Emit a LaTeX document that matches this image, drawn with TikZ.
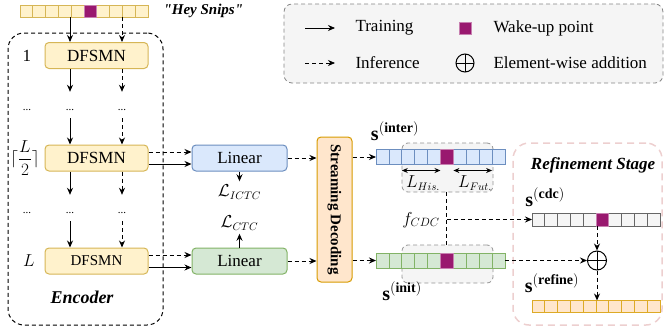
\documentclass[tikz,border=0pt]{standalone}
\usepackage{amsmath,amssymb}
\usepackage{fontspec}
\setmainfont{Liberation Serif}
\usepackage{tikz}
\usetikzlibrary{arrows.meta}
\usetikzlibrary{positioning}
\usetikzlibrary{calc}
\definecolor{yfill}{HTML}{FFF2CC}
\definecolor{ydraw}{HTML}{D6B656}
\definecolor{bfill}{HTML}{DAE8FC}
\definecolor{bdraw}{HTML}{6C8EBF}
\definecolor{gfill}{HTML}{D5E8D4}
\definecolor{gdraw}{HTML}{82B366}
\definecolor{ofill}{HTML}{FFE6CC}
\definecolor{odraw}{HTML}{D79B00}
\definecolor{wake}{HTML}{99186F}
\definecolor{greyfill}{HTML}{F5F5F5}
\definecolor{greydraw}{HTML}{666666}
\definecolor{pinkdraw}{HTML}{EDCFCF}
\tikzset{
	train/.style={draw=black, line width=1pt, -{Stealth[length=7pt,width=6pt]}},
	infer/.style={train, dash pattern=on 4pt off 3pt},
	dashline/.style={draw=black, line width=1pt, dash pattern=on 4pt off 3pt},
	lenarrow/.style={draw=black, line width=0.9pt, {Stealth[length=6pt,width=5pt]}-{Stealth[length=6pt,width=5pt]}},
	block/.style={draw, rounded corners=4pt, line width=1pt, minimum height=26pt, inner sep=0pt},
	dfsmn/.style={block, fill=yfill, draw=ydraw, minimum width=103pt},
	linear/.style={block, minimum width=95pt},
	cell/.style={draw, line width=0.8pt, minimum width=12.9pt, minimum height=14pt, inner sep=0pt, outer sep=0pt},
	wakecell/.style={cell, fill=wake, draw=wake!55},
	dots/.style={inner sep=0pt, text height=18pt, text depth=8pt, anchor=base, font=\fontsize{11}{12}\selectfont},
	window/.style={draw=greydraw!70, fill=greyfill, rounded corners=6pt, line width=0.8pt, dash pattern=on 4pt off 3pt},
	plus/.style={circle, draw, line width=1pt, minimum size=19pt, inner sep=0pt,
		path picture={\draw[line width=1pt] (path picture bounding box.north) -- (path picture bounding box.south)
			(path picture bounding box.west) -- (path picture bounding box.east);}},
	stagefont/.style={font=\fontsize{17}{20}\selectfont\bfseries\itshape},
	seqlabel/.style={font=\fontsize{20}{22}\selectfont},
}

\begin{document}
\begin{tikzpicture}[x=1pt, y=-1pt, font=\fontsize{17}{20}\selectfont]
	\useasboundingbox (0,0) rectangle (664,335);
	% legend
	\node[draw=greydraw!80, fill=greyfill, rounded corners=8pt, line width=0.8pt, dash pattern=on 4pt off 3pt,
		minimum width=379pt, minimum height=79pt] (legend) at (473.5,43.5) {};
	\coordinate (trainA) at (305,28);
	\coordinate (trainB) at (335,28);
	\coordinate (inferA) at (305,63);
	\coordinate (inferB) at (335,63);
	\draw[train, line width=0.8pt] (trainA) -- (trainB);
	\draw[infer, line width=0.8pt] (inferA) -- (inferB);
	\node[anchor=west] (traintxt) at (352,28) {Training};
	\node[anchor=west] (infertxt) at (352,63) {Inference};
	\node[wakecell, minimum width=12pt, minimum height=12pt] (wakekey) at (465,28) {};
	\node[plus, minimum size=18pt] (addkey) at (465,63) {};
	\node[anchor=west] (waketxt) at (490,28) {Wake-up point};
	\node[anchor=west] (addtxt) at (490,63) {Element-wise addition};

	% input
	\foreach \i in {0,...,9}
		\node[cell, fill=yfill, draw=ydraw, minimum height=12pt] (hey\i) at ({26.4+12.8*\i},11) {};
	\node[wakecell, minimum height=12pt] (hey5) at (hey5) {};
	\node[anchor=west, font=\fontsize{15}{18}\selectfont\bfseries\itshape] (heytxt) at (160,11) {\textquotedbl Hey Snips\textquotedbl};

	% encoder
	\node[draw, rounded corners=16pt, line width=1pt, dash pattern=on 4pt off 3pt,
		minimum width=155pt, minimum height=292pt] (encoder) at (85.5,179) {};
	\node[stagefont, font=\fontsize{18}{20}\selectfont\bfseries\itshape] (enctxt) at (82,297) {Encoder};
	\node[dfsmn] (dfA) at (96.5,55.5) {DFSMN};
	\node[dfsmn] (dfB) at (96.5,158) {DFSMN};
	\node[dfsmn, font=\fontsize{15}{18}\selectfont] (dfC) at (96.5,261) {DFSMN};
	\node (idxA) at (27,55.5) {1};
	\node (idxB) at (25,158) {$\lceil\dfrac{L}{2}\rceil$};
	\node (idxC) at (29,261) {$L$};
	\coordinate (colS) at (70,0);
	\coordinate (colD) at (122,0);
	\foreach \n/\y in {1/110, 2/213} {
		\node[dots] (dotL\n) at (27,\y) {...};
		\node[dots] (dotS\n) at (70,\y) {...};
		\node[dots] (dotD\n) at (122,\y) {...};
	}
	\draw[train] (hey0.south -| colS) -- (dfA.north -| colS);
	\draw[infer] (hey0.south -| colD) -- (dfA.north -| colD);
	\draw[train] (dfA.south -| colS) -- (dotS1);
	\draw[infer] (dfA.south -| colD) -- (dotD1);
	\draw[train] (dotS1) -- (dfB.north -| colS);
	\draw[infer] (dotD1) -- (dfB.north -| colD);
	\draw[train] (dfB.south -| colS) -- (dotS2);
	\draw[infer] (dfB.south -| colD) -- (dotD2);
	\draw[train] (dotS2) -- (dfC.north -| colS);
	\draw[infer] (dotD2) -- (dfC.north -| colD);

	% heads
	\node[linear, fill=bfill, draw=bdraw] (linA) at (239.5,158) {Linear};
	\node[linear, fill=gfill, draw=gdraw] (linB) at (239.5,261) {Linear};
	\draw[infer] ([yshift=6pt]dfB.east) -- ([yshift=6pt]linA.west);
	\draw[train] ([yshift=-6pt]dfB.east) -- ([yshift=-6pt]linA.west);
	\draw[infer] ([yshift=6pt]dfC.east) -- ([yshift=6pt]linB.west);
	\draw[train] ([yshift=-6.5pt]dfC.east) -- ([yshift=-6.5pt]linB.west);
	\node[font=\fontsize{16}{18}\selectfont] (lossA) at (239.5,192) {$\mathcal{L}_{ICTC}$};
	\node[font=\fontsize{16}{18}\selectfont] (lossB) at (239.5,223) {$\mathcal{L}_{CTC}$};
	\draw[train] (linA) -- (lossA);
	\draw[train] (linB) -- (lossB);

	% decoding
	\node[block, fill=ofill, draw=odraw, rotate=-90, minimum width=145pt, minimum height=35pt,
		font=\fontsize{15}{18}\selectfont\bfseries] (decode) at (334.5,209.5) {Streaming Decoding};
	\draw[infer] (linA.east) -- (linA.east -| decode.south);
	\draw[infer] (linB.east) -- (linB.east -| decode.south);

	% sequences
	\node[window, minimum width=91pt, minimum height=49pt] (winA) at (447.5,167.5) {};
	\node[window, minimum width=91pt, minimum height=38pt] (winB) at (447.5,264) {};
	\foreach \i in {0,...,9} {
		\node[cell, fill=bfill, draw=bdraw, minimum height=15pt] (inter\i) at ({382.45+12.9*\i},157) {};
		\node[cell, fill=gfill, draw=gdraw, minimum height=15pt] (init\i) at ({382.45+12.9*\i},260.5) {};
	}
	\node[wakecell, minimum height=15pt] (inter5) at (inter5) {};
	\node[wakecell, minimum height=15pt] (init5) at (init5) {};
	\draw[infer] (decode.north |- inter0) -- (inter0);
	\draw[infer] (decode.north |- init0) -- (init0);
	\node[seqlabel] (sInter) at (395,131) {$\mathbf{s}^{(\mathbf{inter})}$};
	\node[seqlabel] (sInit) at (402,291) {$\mathbf{s}^{(\mathbf{init})}$};
	\draw[lenarrow] ([yshift=-6pt]inter2.south west) -- ([yshift=-6pt]inter5.south west);
	\draw[lenarrow] ([yshift=-6pt]inter6.south west) -- ([yshift=-6pt]inter8.south east);
	\node[font=\fontsize{16}{18}\selectfont] (lHis) at (423,183) {$L_{His.}$};
	\node[font=\fontsize{16}{18}\selectfont] (lFut) at (475,183) {$L_{Fut.}$};

	% refinement
	\node[draw=pinkdraw, rounded corners=16pt, line width=1.5pt, dash pattern=on 7pt off 5pt,
		minimum width=149pt, minimum height=182pt] (refine) at (587.5,234) {};
	\node[stagefont] (reftxt) at (593,165) {Refinement Stage};
	\foreach \i in {0,...,9} {
		\node[cell, fill=greyfill, draw=greydraw, minimum width=12.8pt, minimum height=13pt] (cdc\i) at ({538.4+12.8*\i},219.5) {};
		\node[cell, fill=ofill, draw=odraw!85, minimum width=12.8pt, minimum height=12pt] (ref\i) at ({538.4+12.8*\i},306.5) {};
	}
	\node[wakecell, minimum width=12.8pt, minimum height=13pt] (cdc5) at (cdc5) {};
	\node[seqlabel] (sCdc) at (545,197) {$\mathbf{s}^{(\mathbf{cdc})}$};
	\node[seqlabel] (sRefine) at (552,283) {$\mathbf{s}^{(\mathbf{refine})}$};
	\node[plus] (add) at (597,260.5) {};

	% cdc
	\node (fcdc) at (421,220) {$f_{CDC}$};
	\draw[dashline] (winA.south -| inter5) -- (winB.north -| inter5);
	\draw[infer] (inter5 |- cdc0) -- (cdc0);
	\draw[infer] (cdc5.south -| add) -- (add);
	\draw[infer] (init9) -- (add);
	\draw[infer] (add) -- (add |- ref0.north);
\end{tikzpicture}
\end{document}
